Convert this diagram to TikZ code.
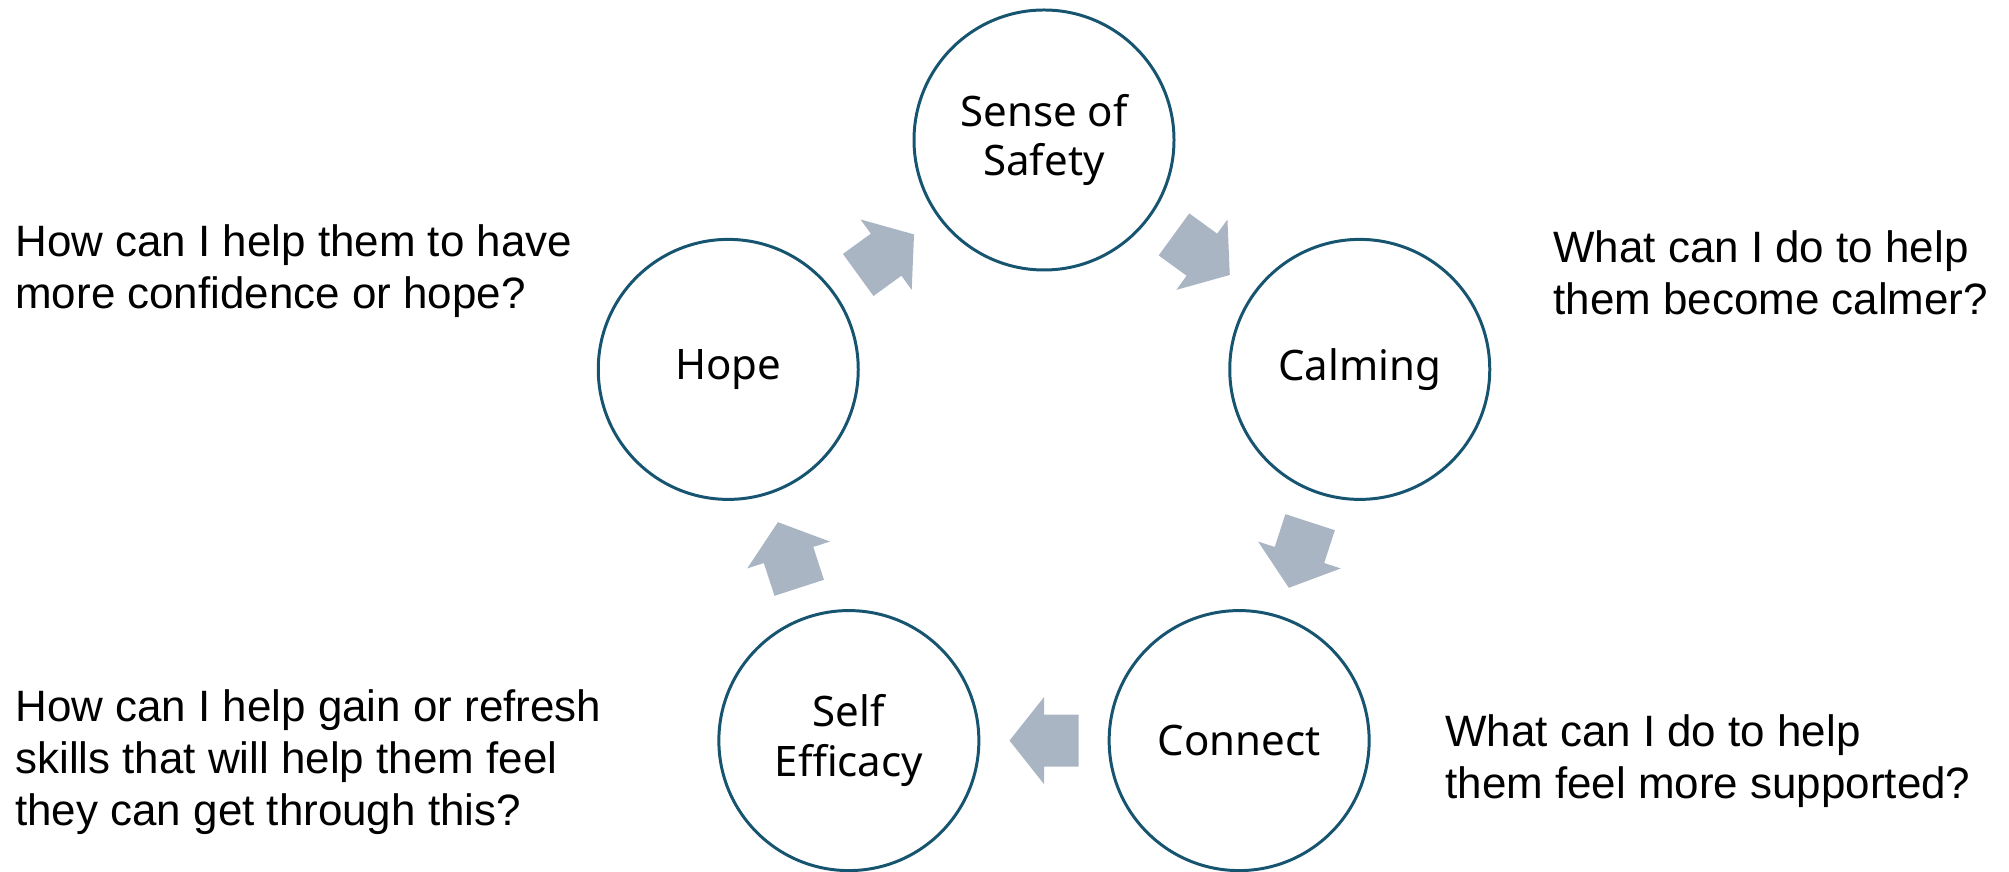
\documentclass[tikz,border=0pt]{standalone}
\usepackage{fontspec}
\setmainfont{Liberation Sans}
\newfontfamily\stagefont{Noto Sans}
\usetikzlibrary{calc}
\definecolor{ringblue}{RGB}{22,84,112}
\definecolor{arrowgrey}{RGB}{170,181,195}

\begin{document}
\begin{tikzpicture}[
    stage/.style={circle,draw=ringblue,line width=1.7pt,minimum size=5.2cm,inner sep=0pt,
      align=center,font=\stagefont\fontsize{23.9}{28.4}\selectfont},
    question/.style={anchor=base west,align=left,inner sep=0pt,font=\fontsize{25}{29.6}\selectfont},
    blockarrow/.style={fill=arrowgrey}]
    \useasboundingbox (0,0) rectangle (40.18,17.44);
    \coordinate (O) at (20.88,8);
    \node[stage] (safety)   at ([shift={(90:6.64)}]O)  {Sense of\\Safety};
    \node[stage] (calming)  at ([shift={(18:6.64)}]O)  {Calming};
    \node[stage] (connect)  at ([shift={(-54:6.64)}]O) {Connect};
    \node[stage] (efficacy) at ([shift={(234:6.64)}]O) {Self\\Efficacy};
    \node[stage] (hope)     at ([shift={(162:6.64)}]O) {Hope};
    % block arrows between the stages
    \foreach \a/\b/\ang in {hope/safety/36,safety/calming/-36,calming/connect/-108,
                            connect/efficacy/180,efficacy/hope/108}
      \fill[blockarrow,shift={($(\a)!0.5!(\b)$)},rotate=\ang]
        (-0.69,-0.52) -- (0,-0.52) -- (0,-0.87) -- (0.69,0) -- (0,0.87) -- (0,0.52) -- (-0.69,0.52) -- cycle;
    % questions (anchored on the last line)
    \node[question] (qhope)    at (0.30,11.26) {How can I help them to have\\more confidence or hope?};
    \node[question] (qcalm)    at (31.06,11.14) {What can I do to help\\them become calmer?};
    \node[question] (qskills)  at (0.30,0.92) {How can I help gain or refresh\\skills that will help them feel\\they can get through this?};
    \node[question] (qsupport) at (28.90,1.46) {What can I do to help\\them feel more supported?};
  \end{tikzpicture}
\end{document}
